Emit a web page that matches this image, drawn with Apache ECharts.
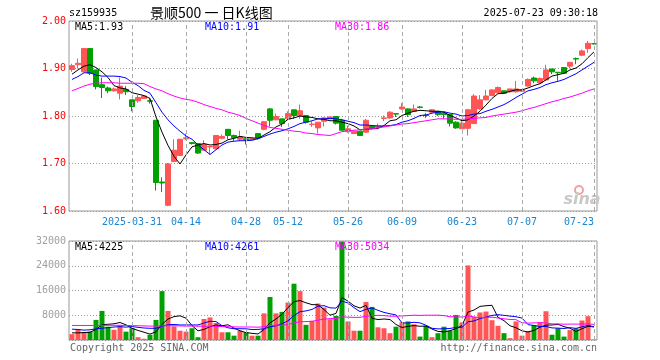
<!DOCTYPE html>
<html><head><meta charset="utf-8">
<script src="https://cdn.jsdelivr.net/npm/echarts@6/dist/echarts.min.js"></script>
<style>html,body{margin:0;padding:0;background:#fff}#c{width:660px;height:360px}</style>
</head><body><div id="c"></div>
<script>
const dates = [
'2025-03-17','2025-03-18','2025-03-19','2025-03-20','2025-03-21',
'2025-03-24','2025-03-25','2025-03-26','2025-03-27','2025-03-28',
'2025-03-31','2025-04-01','2025-04-02','2025-04-03',
'2025-04-07','2025-04-08','2025-04-09','2025-04-10','2025-04-11',
'2025-04-14','2025-04-15','2025-04-16','2025-04-17','2025-04-18',
'2025-04-21','2025-04-22','2025-04-23','2025-04-24','2025-04-25',
'2025-04-28','2025-04-29','2025-04-30',
'2025-05-06','2025-05-07','2025-05-08','2025-05-09',
'2025-05-12','2025-05-13','2025-05-14','2025-05-15','2025-05-16',
'2025-05-19','2025-05-20','2025-05-21','2025-05-22','2025-05-23',
'2025-05-26','2025-05-27','2025-05-28','2025-05-29','2025-05-30',
'2025-06-03','2025-06-04','2025-06-05','2025-06-06',
'2025-06-09','2025-06-10','2025-06-11','2025-06-12','2025-06-13',
'2025-06-16','2025-06-17','2025-06-18','2025-06-19','2025-06-20',
'2025-06-23','2025-06-24','2025-06-25','2025-06-26','2025-06-27',
'2025-06-30','2025-07-01','2025-07-02','2025-07-03','2025-07-04',
'2025-07-07','2025-07-08','2025-07-09','2025-07-10','2025-07-11',
'2025-07-14','2025-07-15','2025-07-16','2025-07-17','2025-07-18',
'2025-07-21','2025-07-22','2025-07-23'];

const opens = [1.898,1.908,1.893,1.942,1.897,1.866,1.859,1.853,1.848,1.856,
1.834,1.832,1.837,1.832,1.791,1.661,1.612,1.704,1.717,1.752,
1.744,1.742,1.728,1.735,1.731,1.753,1.772,1.759,1.751,1.752,
1.750,1.763,1.772,1.815,1.792,1.794,1.794,1.813,1.801,1.801,
1.782,1.775,1.789,1.794,1.799,1.791,1.767,1.763,1.768,1.766,
1.779,1.776,1.795,1.796,1.805,1.815,1.815,1.810,1.819,1.802,
1.808,1.810,1.806,1.803,1.787,1.773,1.774,1.784,1.815,1.834,
1.843,1.849,1.853,1.851,1.851,1.852,1.863,1.880,1.870,1.876,
1.899,1.892,1.902,1.905,1.921,1.928,1.942,1.952];
const closes = [1.906,1.911,1.942,1.890,1.862,1.860,1.853,1.857,1.863,1.851,
1.820,1.839,1.842,1.831,1.660,1.659,1.699,1.728,1.751,1.754,
1.742,1.722,1.740,1.736,1.759,1.757,1.759,1.754,1.756,1.750,
1.752,1.754,1.788,1.791,1.799,1.784,1.805,1.801,1.811,1.787,
1.783,1.787,1.796,1.798,1.785,1.770,1.773,1.768,1.759,1.791,
1.775,1.779,1.796,1.808,1.804,1.819,1.803,1.815,1.818,1.801,
1.813,1.803,1.803,1.785,1.775,1.785,1.813,1.842,1.834,1.842,
1.855,1.860,1.848,1.857,1.857,1.855,1.877,1.874,1.879,1.897,
1.893,1.891,1.890,1.913,1.920,1.937,1.953,1.952];
const lows = [1.893,1.900,1.892,1.886,1.856,1.838,1.848,1.851,1.835,1.844,
1.810,1.828,1.836,1.826,1.643,1.640,1.610,1.703,1.716,1.749,
1.740,1.720,1.728,1.718,1.730,1.751,1.751,1.747,1.747,1.740,
1.749,1.751,1.770,1.778,1.791,1.777,1.792,1.794,1.794,1.784,
1.777,1.763,1.778,1.794,1.782,1.770,1.765,1.762,1.758,1.765,
1.774,1.772,1.789,1.794,1.798,1.813,1.798,1.809,1.816,1.796,
1.807,1.800,1.794,1.778,1.773,1.773,1.759,1.783,1.813,1.833,
1.842,1.848,1.847,1.849,1.849,1.851,1.862,1.869,1.868,1.874,
1.888,1.874,1.889,1.900,1.909,1.926,1.933,1.951];
const highs = [1.910,1.921,1.943,1.942,1.897,1.881,1.862,1.860,1.881,1.863,
1.834,1.844,1.843,1.838,1.791,1.671,1.701,1.751,1.752,1.763,
1.745,1.743,1.749,1.737,1.759,1.761,1.772,1.761,1.769,1.753,
1.753,1.763,1.789,1.817,1.805,1.794,1.810,1.813,1.824,1.801,
1.789,1.787,1.798,1.798,1.800,1.794,1.780,1.769,1.768,1.794,
1.780,1.784,1.801,1.810,1.806,1.827,1.816,1.824,1.821,1.806,
1.814,1.810,1.808,1.803,1.789,1.789,1.815,1.846,1.844,1.855,
1.856,1.862,1.853,1.857,1.874,1.856,1.879,1.883,1.881,1.908,
1.899,1.893,1.903,1.913,1.923,1.940,1.958,1.953];

const ma5 = [1.888,1.897,1.905,1.908,1.902,1.893,1.881,1.864,1.859,1.857,
1.849,1.846,1.843,1.837,1.798,1.766,1.738,1.715,1.699,1.718,
1.735,1.739,1.742,1.739,1.740,1.743,1.750,1.753,1.757,1.755,
1.754,1.753,1.760,1.767,1.777,1.783,1.793,1.796,1.800,1.798,
1.797,1.794,1.793,1.790,1.790,1.787,1.784,1.779,1.771,1.772,
1.773,1.774,1.780,1.790,1.792,1.801,1.806,1.810,1.812,1.811,
1.810,1.810,1.808,1.801,1.796,1.790,1.792,1.800,1.810,1.823,
1.837,1.847,1.848,1.852,1.855,1.855,1.859,1.864,1.868,1.876,
1.884,1.887,1.890,1.897,1.901,1.910,1.923,1.935];
const ma10 = [1.877,1.883,1.891,1.891,1.886,1.884,1.884,1.884,1.883,1.880,
1.871,1.864,1.854,1.848,1.828,1.808,1.792,1.779,1.768,1.758,
1.751,1.739,1.729,1.719,1.729,1.739,1.745,1.747,1.748,1.748,
1.749,1.752,1.757,1.762,1.766,1.769,1.773,1.778,1.784,1.787,
1.790,1.794,1.794,1.795,1.794,1.792,1.789,1.786,1.781,1.781,
1.780,1.779,1.779,1.780,1.782,1.787,1.790,1.795,1.801,1.802,
1.806,1.808,1.809,1.806,1.804,1.800,1.801,1.804,1.805,1.810,
1.814,1.819,1.824,1.831,1.839,1.846,1.853,1.856,1.860,1.866,
1.870,1.873,1.877,1.883,1.889,1.897,1.905,1.913];
const ma30 = [1.853,1.858,1.863,1.867,1.869,1.870,1.870,1.870,1.869,1.869,
1.869,1.869,1.868,1.862,1.857,1.853,1.847,1.842,1.838,1.835,
1.833,1.829,1.824,1.820,1.816,1.813,1.808,1.805,1.801,1.795,
1.790,1.785,1.780,1.776,1.774,1.772,1.770,1.768,1.767,1.764,
1.763,1.761,1.760,1.759,1.763,1.767,1.769,1.770,1.771,1.772,
1.773,1.775,1.777,1.779,1.781,1.783,1.784,1.786,1.788,1.790,
1.792,1.794,1.794,1.794,1.793,1.793,1.794,1.795,1.796,1.797,
1.800,1.802,1.804,1.806,1.808,1.811,1.815,1.818,1.822,1.826,
1.830,1.833,1.837,1.840,1.844,1.848,1.853,1.857];

const volumes = [1900,3500,2500,2700,6500,9400,4300,3300,4800,2700,
3800,900,400,1700,6500,15800,9400,4400,3000,2700,
3800,900,6800,7300,5500,2500,2500,1400,3000,2500,
1400,1400,8600,13900,8600,9100,12100,18200,15800,4900,
6200,11800,10500,6700,7800,31800,6000,3000,3000,12300,
10700,4100,3800,2200,4300,5700,6000,5100,1100,4600,
900,2200,4300,3000,8100,5700,24100,7500,8900,9200,
6400,4600,2200,600,6000,1400,2800,4800,5700,9300,
1700,3800,1100,3200,3800,6300,7700,100];
const volMa5 = [2300,2300,2400,2500,3420,4920,5080,5240,5660,4900,
3780,3100,2520,1900,2660,5060,6760,7560,7820,7060,
4660,2960,3440,4300,4860,4600,4920,3840,2980,2380,
2160,1940,3380,5560,6780,8320,10460,12380,12760,12020,
11440,11380,9840,8020,8600,13720,12560,11060,10320,11220,
7000,6620,6780,6620,5020,4020,4400,4660,4440,4500,
3540,2780,2620,3000,3700,4660,9040,9680,10860,11080,
11220,7320,6260,4600,3960,2960,2600,3120,4140,4800,
4860,5060,4320,3820,2720,3640,4420,4220];
const volMa10 = [3500,3400,3200,3300,3600,3800,4000,4200,4300,4160,
4350,4090,3880,3780,3780,4420,4930,5040,4860,4860,
4860,4860,5500,6060,5960,4630,3940,3640,3640,3620,
3380,3430,3610,4270,4580,5240,6200,7880,9160,9400,
9880,10920,11110,10390,10310,12580,11970,10450,9170,9910,
10360,9590,8920,8470,8120,5510,5510,5720,5530,4760,
3780,3590,3640,3720,4100,4100,5910,6150,6930,7390,
7940,8180,7970,7730,7520,7090,4960,4690,4370,4380,
3910,3830,3720,3980,3760,4250,4740,4270];
const volMa30 = [4700,4700,4700,4700,4700,4750,4750,4750,4750,4700,
4650,4600,4550,4500,4500,4600,4600,4600,4550,4500,
4500,4450,4450,4450,4400,4350,4300,4250,4200,4210,
4200,4130,4330,4700,4770,4760,5020,5520,5890,5960,
6040,6400,6740,6910,6950,7480,7370,7320,7320,7640,
7870,7980,7880,7710,7670,7780,7890,8020,7950,8020,
8010,8030,7890,7530,7510,7400,7800,7440,7210,7350,
7360,7120,6840,6640,6580,5570,5460,5520,5610,5510,
5210,5200,5110,5140,5130,5150,5200,5040];

const tickDates = ['2025-03-31','2025-04-14','2025-04-28','2025-05-12','2025-05-26','2025-06-09','2025-06-23','2025-07-07','2025-07-23'];
const tickLabels = ['2025-03-31','04-14','04-28','05-12','05-26','06-09','06-23','07-07','07-23'];
const priceTicks = [1.6, 2.0, 0.1];
const volTicks = [0, 32000, 8000];
const priceMaLabels = ['MA5:1.93','MA10:1.91','MA30:1.86'];
const volMaLabels = ['MA5:4225','MA10:4261','MA30:5034'];
const headerTexts = ['sz159935','景顺500 一 日K线图','2025-07-23 09:30:18'];
const footerTexts = ['Copyright 2025 SINA.COM','http://finance.sina.com.cn'];

const UP = '#ff5555', DOWN = '#00a000';
const MONO = '"DejaVu Sans Mono", "Liberation Mono", monospace';
const maColors = ['#000000', '#0000ff', '#ff00ff'];

function isUp(i) {
  if (closes[i] > opens[i]) return true;
  if (closes[i] < opens[i]) return false;
  return i === 0 ? true : closes[i] >= closes[i - 1];
}

const chart = echarts.init(document.getElementById('c'), null, {renderer: 'canvas'});

const vLines = {
  symbol: ['none', 'none'], silent: true, animation: false,
  label: {show: false},
  lineStyle: {type: [4, 3], color: '#aaaaaa', width: 1},
  emphasis: {disabled: true},
  data: tickDates.map(d => ({xAxis: d}))
};

function maLine(data, color, xi, yi) {
  return {type: 'line', data: data, xAxisIndex: xi, yAxisIndex: yi, symbol: 'none',
    lineStyle: {color: color, width: 1}, itemStyle: {color: color}, silent: true, animation: false, z: 3};
}

const xCommon = {
  type: 'category', data: dates, boundaryGap: true,
  axisLine: {show: false}, axisTick: {show: false}, splitLine: {show: false}
};

chart.setOption({
  animation: false,
  backgroundColor: '#ffffff',
  grid: [
    {left: 69, top: 21, width: 528, height: 190, show: true, borderColor: '#999999', borderWidth: 1},
    {left: 69, top: 241, width: 528, height: 99, show: true, borderColor: '#999999', borderWidth: 1}
  ],
  xAxis: [
    Object.assign({}, xCommon, {gridIndex: 0,
      axisLabel: {
        show: true, margin: 6, color: '#1a86d0', fontFamily: MONO, fontSize: 10,
        interval: (idx, val) => tickDates.indexOf(val) >= 0,
        formatter: val => { const k = tickDates.indexOf(val); return k >= 0 ? tickLabels[k] : ''; },
        showMinLabel: true, showMaxLabel: true, alignMaxLabel: 'right', hideOverlap: false
      }}),
    Object.assign({}, xCommon, {gridIndex: 1, axisLabel: {show: false}})
  ],
  yAxis: [
    {type: 'value', gridIndex: 0, min: priceTicks[0], max: priceTicks[1], interval: priceTicks[2],
      axisLine: {show: false}, axisTick: {show: false},
      axisLabel: {color: '#ff0000', fontFamily: MONO, fontSize: 10, margin: 3, formatter: v => v.toFixed(2)},
      splitLine: {show: true, lineStyle: {type: [1, 2], color: '#999999'}}},
    {type: 'value', gridIndex: 1, min: volTicks[0], max: volTicks[1], interval: volTicks[2],
      axisLine: {show: false}, axisTick: {show: false},
      axisLabel: {color: '#a0a0a0', fontFamily: MONO, fontSize: 10, margin: 3, formatter: v => v === 0 ? '' : String(v)},
      splitLine: {show: true, lineStyle: {type: [1, 2], color: '#999999'}}}
  ],
  series: [
    {type: 'candlestick', xAxisIndex: 0, yAxisIndex: 0, barWidth: 5,
      data: opens.map((o, i) => [o, closes[i], lows[i], highs[i]]),
      itemStyle: {color: UP, color0: DOWN, borderColor: UP, borderColor0: DOWN, borderWidth: 1},
      markLine: vLines, silent: true, z: 2},
    maLine(ma5, maColors[0], 0, 0),
    maLine(ma10, maColors[1], 0, 0),
    maLine(ma30, maColors[2], 0, 0),
    {type: 'bar', xAxisIndex: 1, yAxisIndex: 1, barWidth: 5, data: volumes, silent: true,
      itemStyle: {color: p => isUp(p.dataIndex) ? UP : DOWN},
      markLine: vLines, z: 2},
    maLine(volMa5, maColors[0], 1, 1),
    maLine(volMa10, maColors[1], 1, 1),
    maLine(volMa30, maColors[2], 1, 1)
  ],
  graphic: [
    {type: 'text', x: 69, y: 13, style: {text: headerTexts[0], font: '10px ' + MONO, fill: '#000', textAlign: 'left', textVerticalAlign: 'middle'}},
    {type: 'text', x: 150, y: 13, style: {text: headerTexts[1], font: '14px "Noto Sans CJK SC"', fill: '#000', textAlign: 'left', textVerticalAlign: 'middle'}},
    {type: 'text', x: 598, y: 13, style: {text: headerTexts[2], font: '10px ' + MONO, fill: '#000', textAlign: 'right', textVerticalAlign: 'middle'}},
    {type: 'text', x: 75, y: 27, z: 10, style: {text: priceMaLabels[0], font: '10px ' + MONO, fill: maColors[0], textVerticalAlign: 'middle'}},
    {type: 'text', x: 205, y: 27, z: 10, style: {text: priceMaLabels[1], font: '10px ' + MONO, fill: maColors[1], textVerticalAlign: 'middle'}},
    {type: 'text', x: 335, y: 27, z: 10, style: {text: priceMaLabels[2], font: '10px ' + MONO, fill: maColors[2], textVerticalAlign: 'middle'}},
    {type: 'text', x: 75, y: 247, z: 10, style: {text: volMaLabels[0], font: '10px ' + MONO, fill: maColors[0], textVerticalAlign: 'middle'}},
    {type: 'text', x: 205, y: 247, z: 10, style: {text: volMaLabels[1], font: '10px ' + MONO, fill: maColors[1], textVerticalAlign: 'middle'}},
    {type: 'text', x: 335, y: 247, z: 10, style: {text: volMaLabels[2], font: '10px ' + MONO, fill: maColors[2], textVerticalAlign: 'middle'}},
    {type: 'text', x: 70, y: 348, style: {text: footerTexts[0], font: '10px ' + MONO, fill: '#666', textVerticalAlign: 'middle'}},
    {type: 'text', x: 597, y: 348, style: {text: footerTexts[1], font: '10px ' + MONO, fill: '#666', textAlign: 'right', textVerticalAlign: 'middle'}},
    {type: 'circle', shape: {cx: 579, cy: 190, r: 4}, z: 1, style: {fill: 'none', stroke: '#f4a0a0', lineWidth: 2}},
    {type: 'text', x: 582, y: 200, z: 1, style: {text: 'sina', font: 'italic bold 16px "DejaVu Sans"', fill: '#c8c8c8', textAlign: 'center', textVerticalAlign: 'middle'}}
  ]
});
</script>
</body></html>
